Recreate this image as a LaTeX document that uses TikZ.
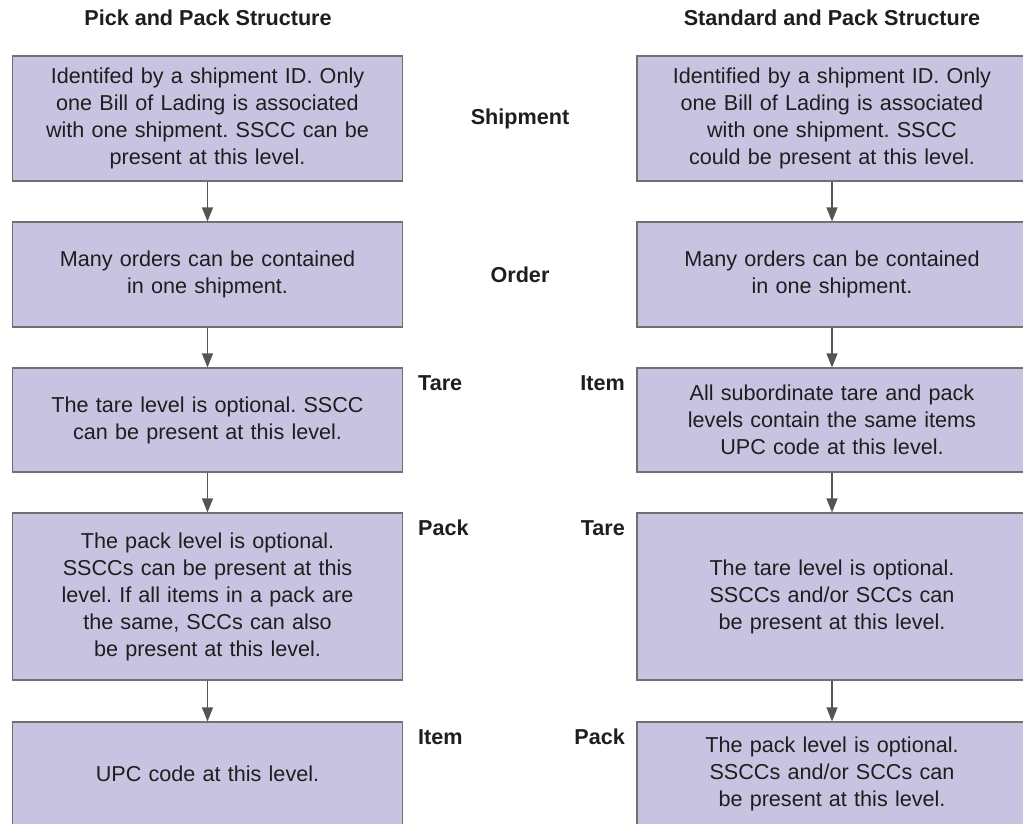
\documentclass[tikz,border=0pt]{standalone}
\usepackage{fontspec}
\setmainfont{Liberation Sans}
\usetikzlibrary{arrows.meta}
\frenchspacing

\definecolor{boxfill}{RGB}{199,195,225}
\definecolor{boxline}{RGB}{112,112,112}
\definecolor{arrowgray}{RGB}{85,85,85}
\definecolor{inkgray}{RGB}{30,30,30}

\tikzset{
  levelbox/.style={draw=boxline,fill=boxfill,line width=1.2pt,inner sep=0pt,
    minimum width=\boxwidth pt,text width=(\boxwidth-20)*1pt,align=center,
    font=\boxfontsize,text=inkgray},
  levelarrow/.style={draw=arrowgray,line width=1.2pt,-{Triangle[width=11pt,length=14pt]}},
  levellabel/.style={inner sep=0pt,font=\labelfontsize\bfseries,text=inkgray},
}

\begin{document}
\begin{tikzpicture}[x=1pt,y=-1pt]
    \pgfmathsetmacro{\boxwidth}{390}
    \pgfmathsetmacro{\leftx}{207.5}
    \pgfmathsetmacro{\rightx}{832}
    \providecommand{\boxfontsize}{\fontsize{21.6pt}{27pt}\selectfont}
    \providecommand{\labelfontsize}{\fontsize{21.6pt}{27pt}\selectfont}
    \useasboundingbox (0,0) rectangle (1023,823);
    \clip (0,0) rectangle (1023,823);
    % column titles
    \node[levellabel] (pptitle) at (208,18) {Pick and Pack Structure};
    \node[levellabel] (sptitle) at (832,18) {Standard and Pack Structure};
    % pick and pack column
    \node[levelbox,minimum height=125pt] (pp1) at (\leftx,118.5)
      {Identifed by a shipment ID. Only\\one Bill of Lading is associated\\with one shipment. SSCC can be\\present at this level.};
    \node[levelbox,minimum height=105pt] (pp2) at (\leftx,274.5)
      {Many orders can be contained\\in one shipment.};
    \node[levelbox,minimum height=104pt] (pp3) at (\leftx,420)
      {The tare level is optional. SSCC\\can be present at this level.};
    \node[levelbox,minimum height=167pt] (pp4) at (\leftx,596.5)
      {The pack level is optional.\\SSCCs can be present at this\\level. If all items in a pack are\\the same, SCCs can also\\be present at this level.};
    \node[levelbox,minimum height=103pt] (pp5) at (\leftx,773.5)
      {UPC code at this level.};
    % standard and pack column
    \node[levelbox,minimum height=125pt] (sp1) at (\rightx,118.5)
      {Identified by a shipment ID. Only\\one Bill of Lading is associated\\with one shipment. SSCC\\could be present at this level.};
    \node[levelbox,minimum height=105pt] (sp2) at (\rightx,274.5)
      {Many orders can be contained\\in one shipment.};
    \node[levelbox,minimum height=104pt] (sp3) at (\rightx,420)
      {All subordinate tare and pack\\levels contain the same items\\UPC code at this level.};
    \node[levelbox,minimum height=167pt] (sp4) at (\rightx,596.5)
      {The tare level is optional.\\SSCCs and/or SCCs can\\be present at this level.};
    \node[levelbox,minimum height=103pt] (sp5) at (\rightx,773.5)
      {The pack level is optional.\\SSCCs and/or SCCs can\\be present at this level.};
    \foreach \i/\j in {1/2,2/3,3/4,4/5} {
      \draw[levelarrow] (pp\i.south) -- (pp\j.north);
      \draw[levelarrow] (sp\i.south) -- (sp\j.north);
    }
    % level names
    \node[levellabel] (shipment) at (520,118.5) {Shipment};
    \node[levellabel] (order) at (520,274.5) {Order};
    \node[levellabel,anchor=west] (pptare) at (418,383) {Tare};
    \node[levellabel,anchor=west] (pppack) at (418,528) {Pack};
    \node[levellabel,anchor=west] (ppitem) at (418,737) {Item};
    \node[levellabel,anchor=east] (spitem) at (625,383) {Item};
    \node[levellabel,anchor=east] (sptare) at (625,528) {Tare};
    \node[levellabel,anchor=east] (sppack) at (625,737) {Pack};
\end{tikzpicture}
\end{document}
